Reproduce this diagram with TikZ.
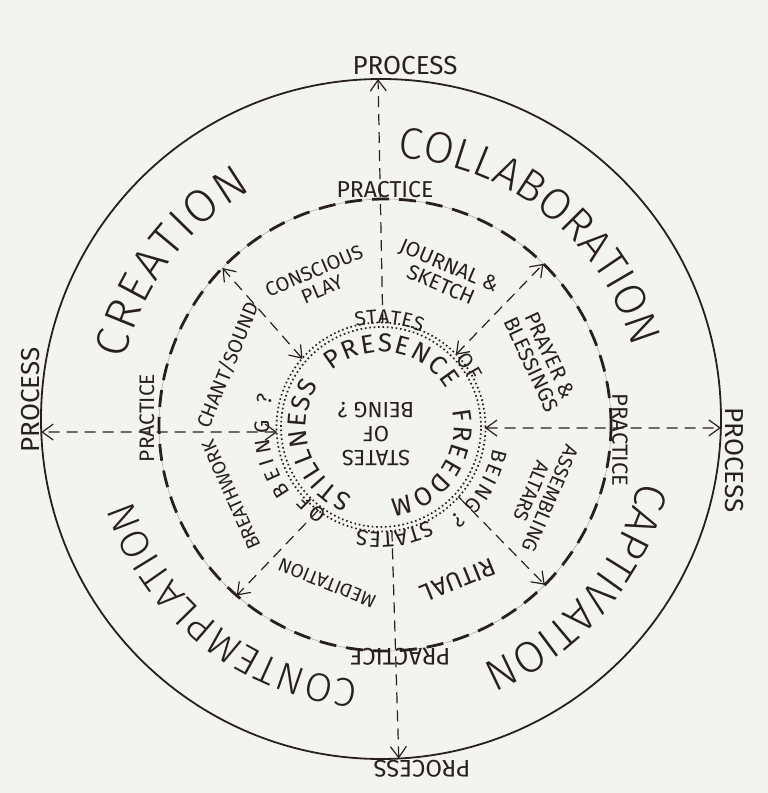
\documentclass[tikz,border=0pt]{standalone}
\usepackage{fontspec}
\setmainfont{Fira Sans}
\newfontfamily\lightfont{Fira Sans}[UprightFont={* Light}]
\usetikzlibrary{arrows.meta,decorations.text,calc}
\definecolor{ink}{RGB}{40,32,28}
\definecolor{paper}{RGB}{243,243,241}
\definecolor{pencil}{RGB}{178,172,162}
\newcommand\fsz[1]{\fontsize{#1}{#1}\selectfont\color{ink}}
\newcommand\fszL[1]{\lightfont\fontsize{#1}{#1}\selectfont\color{ink}}
% #1 centre, #2 baseline radius, #3 start angle, #4 end angle, #5 text, #6 font command
\newcommand\ArcLbl[6]{%
  \path[decorate,decoration={text along path,text align={fit to path},
      text={|#6|#5}}]
    ($(#1)+({#3}:#2)$) arc[start angle={#3}, end angle={#4}, radius=#2];}
\begin{document}
\begin{tikzpicture}[x=1pt,y=1pt,
  lbl/.style={inner sep=0pt,text=ink,align=center},
  axisline/.style={draw=ink,line width=1.2pt,dash pattern=on 11pt off 7pt},
  >={Straight Barb[length=11pt,width=16pt]}]
\useasboundingbox[fill=paper] (0,0) rectangle (768,793);
\coordinate (O) at (381,374);
\coordinate (P) at (385,368);
\coordinate (I) at (381,366);
% circles
\draw[ink, line width=1.8pt] (O) circle[radius=340];
\draw[pencil, line width=0.6pt] (P) circle[radius=226];
\draw[ink, line width=2.8pt, dash pattern=on 17pt off 10pt] (P) circle[radius=226];
\draw[ink, line width=1.7pt, dash pattern=on 1.6pt off 2.8pt] (I) circle[radius=100];
\draw[ink, line width=1.7pt, dash pattern=on 1.6pt off 2.8pt] (I) circle[radius=104.5];
% connector end points
\coordinate (aTo) at ($(O)+(90.5:340)$);
\coordinate (aTi) at ($(I)+(89:104)$);
\coordinate (aBo) at ($(O)+(-87:340)$);
\coordinate (aBi) at ($(I)+(-84:104)$);
\coordinate (aLo) at ($(O)+(182.2:340)$);
\coordinate (aLi) at ($(I)+(182.8:104)$);
\coordinate (aRo) at ($(O)+(-1.5:340)$);
\coordinate (aRi) at ($(I)+(-0.6:104)$);
\coordinate (dULo) at ($(P)+(136:226)$);
\coordinate (dULi) at ($(I)+(139:104)$);
\coordinate (dURo) at ($(P)+(45.5:226)$);
\coordinate (dURi) at ($(I)+(44:104)$);
\coordinate (dLLo) at ($(P)+(229:226)$);
\coordinate (dLLi) at ($(I)+(233:104)$);
\coordinate (dLRo) at ($(P)+(-45:226)$);
\coordinate (dLRi) at ($(I)+(-42:104)$);
% connectors
\draw[axisline,->] (aTi) -- (aTo);
\draw[axisline,->] (aBi) -- (aBo);
\draw[axisline,<->] (aLi) -- (aLo);
\draw[axisline,<->] (aRi) -- (aRo);
\draw[axisline,<->] (dULi) -- (dULo);
\draw[axisline,<->] (dURi) -- (dURo);
\draw[axisline,->] (dLLi) -- (dLLo);
\draw[axisline,->] (dLRi) -- (dLRo);
% PROCESS / PRACTICE
\node[lbl,font=\fsz{26}] (procT) at (405,727) {PROCESS};
\node[lbl,font=\fsz{26},rotate=90] (procL) at (31,393) {PROCESS};
\node[lbl,font=\fsz{26},rotate=-90] (procR) at (734,333) {PROCESS};
\node[lbl,font=\fsz{24},rotate=180] (procB) at (422,24) {PROCESS};
\node[lbl,font=\fsz{23}] (pracT) at (385,603) {PRACTICE};
\node[lbl,font=\fsz{21},rotate=90] (pracL) at (147,375) {PRACTICE};
\node[lbl,font=\fsz{22},rotate=-90] (pracR) at (620,353) {PRACTICE};
\node[lbl,font=\fsz{24},rotate=180] (pracB) at (400,136) {PRACTICE};
% big arc labels
\ArcLbl{O}{263}{167}{119.5}{CREATION}{\fszL{46}}
\ArcLbl{O}{262}{86.5}{16.5}{COLLABORATION}{\fszL{44}}
\ArcLbl{O}{266}{-13.5}{-66.8}{CAPTIVATION}{\fszL{44}}
\ArcLbl{O}{262}{-95}{-162}{CONTEMPLATION}{\fszL{40}}
% practices ring
\node[lbl,font=\fsz{20},rotate=23] (consc) at (318,513) {CONSCIOUS\\PLAY};
\node[lbl,font=\fsz{21},rotate=-23] (journ) at (445,518) {JOURNAL \&\\SKETCH};
\node[lbl,font=\fsz{21},rotate=-65] (pray) at (541,433) {PRAYER \&\\BLESSINGS};
\node[lbl,font=\fsz{20},rotate=-113] (assem) at (541,298) {ASSEMBLING\\ALTARS};
\node[lbl,font=\fsz{25},rotate=-158] (ritual) at (458,213) {RITUAL};
\node[lbl,font=\fsz{19},rotate=158] (medit) at (327,210) {MEDITATION};
\node[lbl,font=\fsz{19},rotate=114] (breath) at (231,298) {BREATHWORK};
\node[lbl,font=\fsz{20},rotate=68] (chant) at (228,428) {CHANT/SOUND};
% inner circle
\node[lbl,font=\fsz{22},rotate=180] (centre) at (376,359) {STATES\\[2pt]OF\\[2pt]BEING ?};
\ArcLbl{I}{75}{131}{30}{PRESENCE}{\fsz{26}}
\ArcLbl{I}{73}{13}{-83}{FREEDOM}{\fsz{26}}
\ArcLbl{I}{75}{248}{146}{STILLNESS}{\fsz{26}}
\ArcLbl{I}{103}{104}{67}{STATES}{\fsz{20}}
\ArcLbl{I}{100}{42}{27}{OF}{\fsz{21}}
\ArcLbl{I}{114}{-11}{-53}{BEING ?}{\fsz{21}}
\ArcLbl{I}{105}{-63}{-103}{STATES}{\fsz{22}}
\ArcLbl{I}{101}{238}{222}{OF}{\fsz{21}}
\ArcLbl{I}{112}{216}{164}{BEING ?}{\fsz{21}}
\end{tikzpicture}
\end{document}
